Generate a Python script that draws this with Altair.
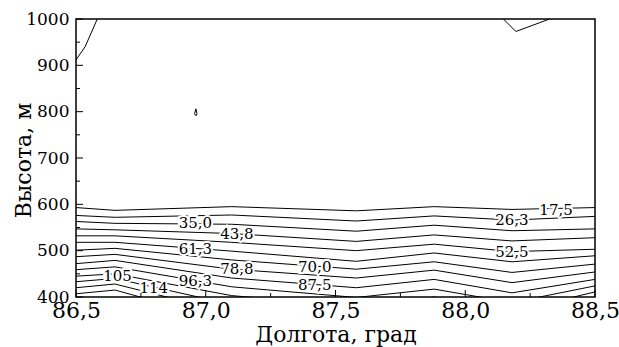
import altair as alt
import pandas as pd

# ---- data ----
lons = [86.5, 86.65, 87.1, 87.58, 87.88, 88.18, 88.5]
levels = [17.5, 26.25, 35.0, 43.75, 52.5, 61.25, 70.0, 78.75, 87.5, 96.25, 105.0, 113.75, 122.5, 131.25]
alt_17 = [593, 587, 595, 586, 595, 589, 593]
alt_26 = [576, 572, 577, 564, 575, 566, 574]
alt_35 = [563, 559, 557, 542, 555, 543, 547]
alt_44 = [547, 545, 537, 520, 534, 521, 528]
alt_52 = [532, 532, 518, 500, 514, 498, 503]
alt_61 = [518, 518, 499, 477, 495, 476, 489]
alt_70 = [501, 505, 480, 460, 476, 453, 471]
alt_79 = [487, 492, 460, 441, 458, 431, 454]
alt_87 = [472, 479, 441, 420, 438, 409, 438]
alt_96 = [459, 465, 422, 399, 417, 388, 424]
alt_105 = [445, 450, 403, 380, 400, 368, 411]
alt_114 = [433, 440, 384, 360, 382, 348, 398]
alt_122 = [420, 428, 365, 340, 362, 328, 385]
alt_131 = [407, 415, 346, 320, 342, 308, 372]
level_alts = [alt_17, alt_26, alt_35, alt_44, alt_52, alt_61, alt_70,
              alt_79, alt_87, alt_96, alt_105, alt_114, alt_122, alt_131]

# small contours near the top and the tiny closed loop
corner_left_lon = [86.5, 86.535, 86.582]
corner_left_alt = [912, 940, 1000]
corner_right_lon = [88.147, 88.195, 88.325]
corner_right_alt = [1000, 973, 1000]
loop_lon = [86.957, 86.962, 86.966, 86.964, 86.960, 86.957]
loop_alt = [796, 806, 796, 792, 792, 796]

label_text = ["17,5", "26,3", "35,0", "43,8", "52,5", "61,3", "70,0", "78,8", "87,5", "96,3", "105", "114"]
label_lon = [88.35, 88.18, 86.96, 87.12, 88.18, 86.96, 87.42, 87.12, 87.42, 86.96, 86.66, 86.80]
label_alt = [588, 567, 559, 537, 498, 503, 465, 460, 426, 434, 446, 420]

x_major = [86.5, 87.0, 87.5, 88.0, 88.5]
x_minor = [86.75, 87.25, 87.75, 88.25]
y_major = [400, 500, 600, 700, 800, 900, 1000]
y_minor = [450, 550, 650, 750, 850, 950]

W, H = 519, 278
FONT = "DejaVu Serif"

rows = []
for lev, alts in zip(levels, level_alts):
    for i, (lo, a) in enumerate(zip(lons, alts)):
        rows.append({"level": lev, "i": i, "lon": lo, "alt": a})
df_lines = pd.DataFrame(rows)

rows2 = []
for name, los, als in [("cl", corner_left_lon, corner_left_alt),
                       ("cr", corner_right_lon, corner_right_alt),
                       ("loop", loop_lon, loop_alt)]:
    for i, (lo, a) in enumerate(zip(los, als)):
        rows2.append({"name": name, "i": i, "lon": lo, "alt": a})
df_small = pd.DataFrame(rows2)

df_labels = pd.DataFrame({"text": label_text, "lon": label_lon, "alt": label_alt})

xscale = alt.Scale(domain=[86.5, 88.5], nice=False, zero=False)
yscale = alt.Scale(domain=[400, 1000], nice=False, zero=False)

xaxis = alt.Axis(values=x_major, ticks=False, domain=False, grid=False, labelFlush=False,
                 labelExpr="replace(format(datum.value, '.1f'), '.', ',')",
                 labelFont=FONT, labelFontSize=22, labelColor="black", labelPadding=3,
                 title="Долгота, град", titleFont=FONT, titleFontSize=22,
                 titleFontWeight="normal", titleColor="black",
                 titleY=44, titleBaseline="alphabetic")
yaxis = alt.Axis(values=y_major, ticks=False, domain=False, grid=False, format="d",
                 labelFlush=False,
                 labelFont=FONT, labelFontSize=17, labelColor="black", labelPadding=7,
                 labelBaseline="middle",
                 title="Высота, м", titleFont=FONT, titleFontSize=22,
                 titleFontWeight="normal", titleColor="black",
                 titleX=-46, titleY=141, titleBaseline="alphabetic")

lines = alt.Chart(df_lines).mark_line(color="black", strokeWidth=1, clip=True).encode(
    x=alt.X("lon:Q", scale=xscale, axis=xaxis),
    y=alt.Y("alt:Q", scale=yscale, axis=yaxis),
    detail="level:N",
    order="i:Q",
)

small = alt.Chart(df_small).mark_line(color="black", strokeWidth=1, clip=True).encode(
    x=alt.X("lon:Q", scale=xscale),
    y=alt.Y("alt:Q", scale=yscale),
    detail="name:N",
    order="i:Q",
)

halo = alt.Chart(df_labels).mark_text(font=FONT, fontSize=15, color="white",
                                      stroke="white", strokeWidth=4).encode(
    x="lon:Q", y="alt:Q", text="text:N")
text = alt.Chart(df_labels).mark_text(font=FONT, fontSize=15, color="black").encode(
    x="lon:Q", y="alt:Q", text="text:N")

xt_major = alt.Chart(pd.DataFrame({"v": x_major})).mark_rule(color="black", strokeWidth=1).encode(
    x="v:Q", y=alt.value(H), y2=alt.value(H - 7))
xt_minor = alt.Chart(pd.DataFrame({"v": x_minor})).mark_rule(color="black", strokeWidth=1).encode(
    x="v:Q", y=alt.value(H), y2=alt.value(H - 4))
yt_major = alt.Chart(pd.DataFrame({"v": y_major})).mark_rule(color="black", strokeWidth=1).encode(
    y="v:Q", x=alt.value(0), x2=alt.value(7))
yt_minor = alt.Chart(pd.DataFrame({"v": y_minor})).mark_rule(color="black", strokeWidth=1).encode(
    y="v:Q", x=alt.value(0), x2=alt.value(4))

chart = alt.layer(lines, small, halo, text, xt_major, xt_minor, yt_major, yt_minor).properties(
    width=W, height=H,
    autosize=alt.AutoSizeParams(type="none"),
    padding={"left": 76, "top": 19, "right": 24, "bottom": 50},
    background="white",
).configure(font=FONT).configure_view(stroke="black", strokeWidth=1.5)

chart.save("out.html", embed_options={"renderer": "svg", "actions": False})
